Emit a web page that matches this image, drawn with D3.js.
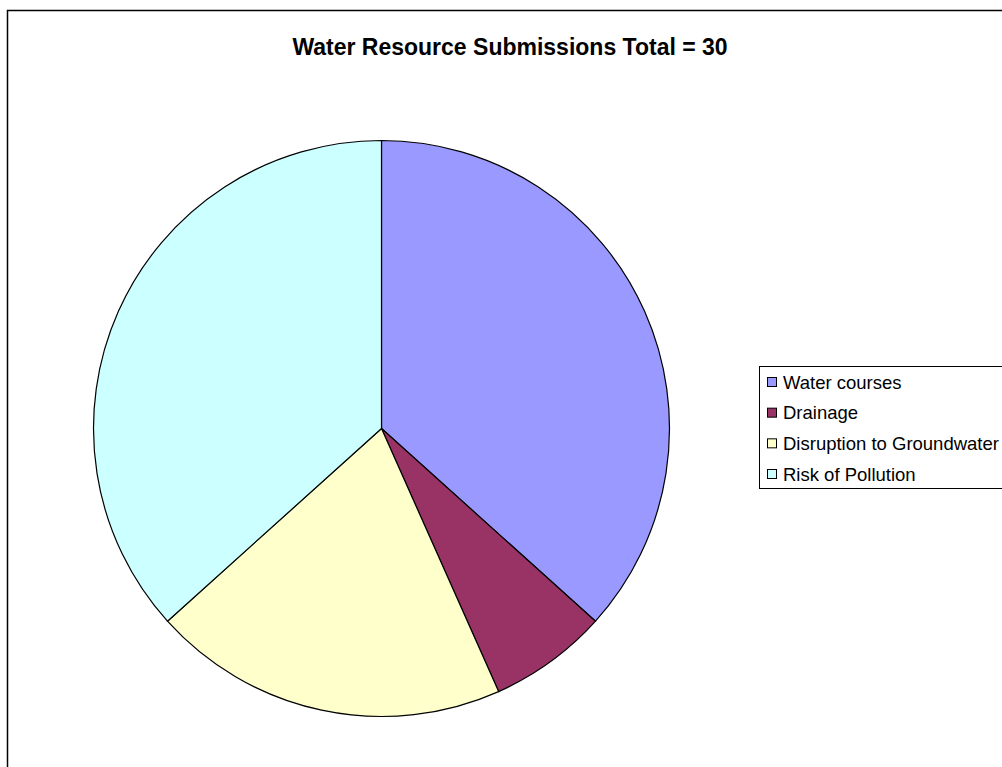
<!DOCTYPE html>
<html><head><meta charset="utf-8">
<script src="https://cdn.jsdelivr.net/npm/d3@7"></script>
<style>body{margin:0;background:#fff;}svg{display:block;}</style>
</head><body>
<svg id="chart" width="1002" height="767"></svg>
<script>
const categories = ["Water courses", "Drainage", "Disruption to Groundwater", "Risk of Pollution"];
const values = [11, 2, 6, 11];
const colors = ["#9999FF", "#993366", "#FFFFCC", "#CCFFFF"];
const title = "Water Resource Submissions Total = 30";

const svg = d3.select("#chart");
// outer chart area border
svg.append("rect").attr("x", 7.5).attr("y", 10.5).attr("width", 1100).attr("height", 1000)
  .attr("fill", "#fff").attr("stroke", "#000").attr("stroke-width", 1.5);

svg.append("text").attr("x", 510).attr("y", 55).attr("text-anchor", "middle")
  .attr("font-family", "Liberation Sans, Arial, sans-serif").attr("font-weight", "bold")
  .attr("font-size", 23).attr("fill", "#000").text(title);

const cx = 381.5, cy = 428.5, r = 288;
const pie = d3.pie().sort(null).value(d => d)(values);
const arc = d3.arc().innerRadius(0).outerRadius(r);
const color = d3.scaleOrdinal().domain(categories).range(colors);
const g = svg.append("g").attr("transform", `translate(${cx},${cy})`);
g.selectAll("path").data(pie).join("path")
  .attr("d", arc).attr("fill", (d, i) => color(categories[i]))
  .attr("stroke", "#000").attr("stroke-width", 1.2).attr("stroke-linejoin", "round");

// legend
const lg = svg.append("g");
lg.append("rect").attr("x", 759.5).attr("y", 366.5).attr("width", 400).attr("height", 122)
  .attr("fill", "#fff").attr("stroke", "#000").attr("stroke-width", 1);
const ly = d3.scalePoint().domain(categories).range([382, 474]);
const items = lg.selectAll("g.item").data(categories).join("g").attr("class", "item")
  .attr("transform", d => `translate(0,${ly(d)})`);
items.append("rect").attr("x", 767.5).attr("y", -4.5).attr("width", 9).attr("height", 9)
  .attr("fill", d => color(d)).attr("stroke", "#000").attr("stroke-width", 1);
items.append("text").attr("x", 783).attr("y", 6.5)
  .attr("font-family", "Liberation Sans, Arial, sans-serif").attr("font-size", 18.5)
  .attr("fill", "#000").text(d => d);
</script>
</body></html>
